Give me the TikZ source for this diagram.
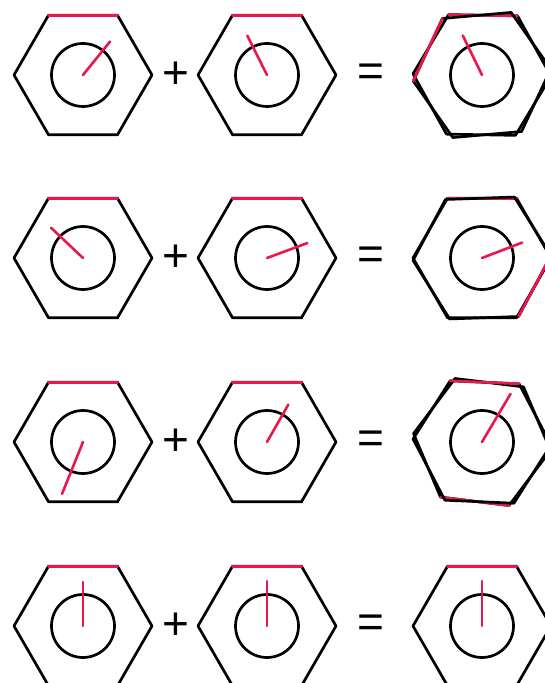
\documentclass[tikz,border=0pt]{standalone}
\usepackage{fontspec}
\setmainfont{Liberation Sans}
\usetikzlibrary{calc}
\definecolor{marca}{HTML}{E8184C}
\newcommand\hexR{69}
\newcommand\nut[3]{%
  \begin{scope}[shift={(#1)},rotate=#2]
    \draw[hexline] (0:\hexR) \foreach \k in {1,...,5}{ -- (60*\k:\hexR)} -- cycle;
    \draw[hexline,marca] (60*#3:\hexR) -- (60*#3+60:\hexR);
  \end{scope}}
\newcommand\bore[3]{%
  \draw[hexline] (#1) circle (31.5);
  \draw[pointer] (#1) -- ++(#2:#3);}

\begin{document}
\begin{tikzpicture}[x=1pt,y=1pt,line cap=round,line join=round,
    hexline/.style={line width=2.7pt},
    pointer/.style={marca,line width=2.6pt},
    sign/.style={inner sep=0pt,font=\fontsize{46}{46}\selectfont}]
  \clip (0,0) rectangle (545,683);
  \foreach \r/\y/\a/\la/\b/\lb in {1/608/51/43/116.6/44, 2/425/136.6/44/20.3/43,
        3/241/248/56/60.3/43, 4/57/90/44/90/45}{
    \coordinate (L\r) at (83,\y);
    \coordinate (M\r) at (267,\y);
    \coordinate (R\r) at (482,\y);
    \nut{L\r}{0}{1}
    \bore{L\r}{\a}{\la}
    \nut{M\r}{0}{1}
    \bore{M\r}{\b}{\lb}
    \node[sign] (plus\r) at (176,\y) {+};
    \node[sign] (eq\r) at (371,\y) {=};
  }
  \nut{R1}{-1}{1}
  \nut{R1}{5}{2}
  \bore{R1}{116}{44}
  \nut{R2}{0}{1}
  \nut{R2}{2}{5}
  \bore{R2}{21}{43}
  \nut{R3}{-7}{4}
  \nut{R3}{-2.5}{1}
  \bore{R3}{59.3}{56}
  \nut{R4}{0}{1}
  \bore{R4}{90}{45}
\end{tikzpicture}
\end{document}
